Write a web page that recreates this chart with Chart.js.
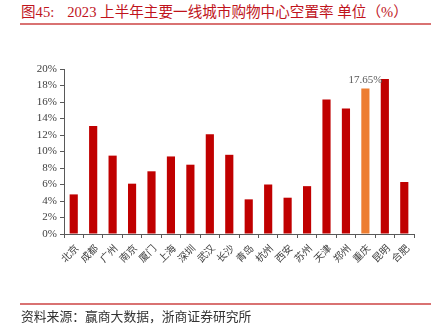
<!DOCTYPE html>
<html lang="zh-CN">
<head>
<meta charset="utf-8">
<script src="https://cdn.jsdelivr.net/npm/chart.js@4/dist/chart.umd.min.js"></script>
<style>
  html, body { margin: 0; padding: 0; background: #fff; }
  #wrap { position: relative; width: 435px; height: 334px; overflow: hidden; }
  #chart { position: absolute; left: 0; top: 0; }
  .title {
    position: absolute; left: 21px; top: 3px; white-space: nowrap;
    font-family: 'Liberation Serif', 'Noto Sans CJK SC', serif;
    font-size: 14.6px; color: #C0141C; line-height: 18px;
  }
  .title .num { margin-right: 13px; }
  .rule { position: absolute; left: 20px; width: 411px; height: 1.5px; background: #D97272; }
  .source {
    position: absolute; left: 21px; top: 308px; white-space: nowrap;
    font-family: 'Noto Sans CJK SC', sans-serif; font-size: 12.8px; color: #333; line-height: 16px;
  }
</style>
</head>
<body>
<div id="wrap">
  <div class="title"><span class="num">图45:</span>2023 上半年主要一线城市购物中心空置率 单位（%）</div>
  <div class="rule" style="top:23px"></div>
  <canvas id="chart" width="435" height="334"></canvas>
  <div class="rule" style="top:303px"></div>
  <div class="source">资料来源：赢商大数据，浙商证券研究所</div>
</div>
<script>
const CITIES = ['北京', '成都', '广州', '南京', '厦门', '上海', '深圳', '武汉', '长沙',
  '青岛', '杭州', '西安', '苏州', '天津', '郑州', '重庆', '昆明', '合肥'];
const VACANCY = [4.8, 13.1, 9.5, 6.1, 7.6, 9.4, 8.4, 12.1, 9.6,
  4.2, 6.0, 4.4, 5.8, 16.3, 15.2, 17.65, 18.8, 6.3];
const HIGHLIGHT = '重庆';
const Y_TICKS = [0, 2, 4, 6, 8, 10, 12, 14, 16, 18, 20];

const COLOR_BAR = '#C00000';
const COLOR_HI = '#ED7D31';
const COLOR_AXIS = '#595959';
const COLOR_TEXT = '#404040';

// Label only the highlighted bar with its value, like the source figure.
const highlightLabel = {
  id: 'highlightLabel',
  afterDatasetsDraw(chart) {
    const i = CITIES.indexOf(HIGHLIGHT);
    const bar = chart.getDatasetMeta(0).data[i];
    if (!bar) return;
    const { ctx } = chart;
    ctx.save();
    ctx.font = "11px 'Liberation Serif'";
    ctx.fillStyle = '#595959';
    ctx.textAlign = 'center';
    ctx.textBaseline = 'bottom';
    ctx.fillText(VACANCY[i].toFixed(2) + '%', bar.x, bar.y - 3);
    ctx.restore();
  }
};

new Chart(document.getElementById('chart'), {
  type: 'bar',
  data: {
    labels: CITIES,
    datasets: [{
      data: VACANCY,
      backgroundColor: CITIES.map((c) => (c === HIGHLIGHT ? COLOR_HI : COLOR_BAR)),
      borderWidth: 0,
      barPercentage: 0.42,
      categoryPercentage: 1
    }]
  },
  options: {
    responsive: false,
    animation: false,
    layout: { padding: { left: 0, right: 21, top: 69, bottom: 70 } },
    plugins: { legend: { display: false }, tooltip: { enabled: false } },
    scales: {
      x: {
        afterFit: (s) => { s.height = 30; },
        border: { color: COLOR_AXIS, width: 1 },
        grid: { drawOnChartArea: false, drawTicks: true, tickLength: 4, color: COLOR_AXIS },
        ticks: {
          autoSkip: false,
          minRotation: 45, maxRotation: 45, padding: 4, labelOffset: 3,
          color: COLOR_TEXT,
          font: { family: "'Noto Sans CJK SC'", size: 10 }
        }
      },
      y: {
        min: 0, max: 20,
        afterFit: (s) => { s.width = 64; },
        afterBuildTicks: (s) => { s.ticks = Y_TICKS.map((v) => ({ value: v })); },
        border: { color: COLOR_AXIS, width: 1 },
        grid: { drawOnChartArea: false, drawTicks: true, tickLength: 4, color: COLOR_AXIS },
        ticks: {
          padding: 3,
          color: COLOR_TEXT,
          font: { family: "'Liberation Serif'", size: 11 },
          callback: (v) => v + '%'
        }
      }
    }
  },
  plugins: [highlightLabel]
});
</script>
</body>
</html>
